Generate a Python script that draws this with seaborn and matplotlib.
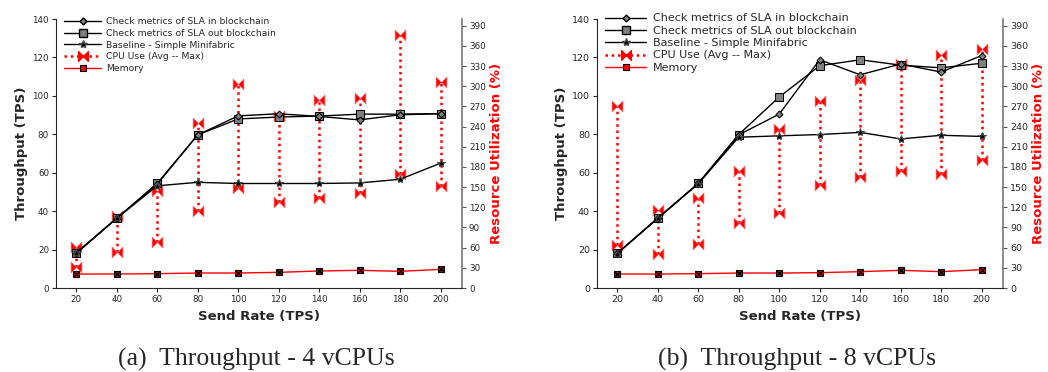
import numpy as np
import pandas as pd
import matplotlib
matplotlib.use('Agg')
import matplotlib.pyplot as plt
from matplotlib.lines import Line2D
from matplotlib.path import Path
import seaborn as sns

# send rate (x)
rate = [20, 40, 60, 80, 100, 120, 140, 160, 180, 200]

# 4 vCPUs
in_4 = [18.1, 36.3, 54.0, 79.7, 89.6, 90.7, 89.3, 87.5, 90.2, 90.7]
out_4 = [18.0, 36.3, 54.5, 79.7, 88.0, 89.0, 89.5, 90.5, 90.5, 90.8]
base_4 = [18.4, 36.3, 53.2, 55.0, 54.4, 54.4, 54.4, 54.7, 56.6, 65.0]
cpu_avg_4 = [31, 53, 69, 114, 149, 128, 134, 142, 169, 152]
cpu_max_4 = [61, 107, 145, 246, 304, 256, 279, 283, 377, 307]
mem_4 = [20.8, 20.8, 21.3, 22.3, 22.3, 23.3, 25.3, 26.3, 24.8, 27.7]

# 8 vCPUs
in_8 = [18.0, 36.3, 54.4, 79.7, 90.5, 118.8, 111.0, 116.6, 112.4, 121.0]
out_8 = [18.0, 36.3, 54.4, 79.9, 99.4, 115.7, 118.8, 116.0, 114.6, 117.0]
base_8 = [17.9, 36.3, 54.2, 78.5, 79.2, 79.9, 81.0, 77.6, 79.5, 78.9]
cpu_avg_8 = [64, 50, 65, 96, 111, 153, 165, 174, 170, 191]
cpu_max_8 = [270, 116, 134, 174, 236, 278, 309, 333, 347, 355]
mem_8 = [20.8, 20.8, 21.3, 22.3, 22.3, 22.8, 24.3, 26.3, 24.3, 27.3]

labels = ['Check metrics of SLA in blockchain', 'Check metrics of SLA out blockchain',
          'Baseline - Simple Minifabric', 'CPU Use (Avg -- Max)', 'Memory']
captions = ['(a)  Throughput - 4 vCPUs', '(b)  Throughput - 8 vCPUs']

sns.set_style('ticks')
plt.rcParams['font.family'] = ['DejaVu Sans']

# bowtie marker for cpu
bowtie = Path([(-1, -1), (-1, 1), (0, 0), (-1, -1), (1, 1), (1, -1), (0, 0), (1, 1)],
              [Path.MOVETO, Path.LINETO, Path.LINETO, Path.CLOSEPOLY,
               Path.MOVETO, Path.LINETO, Path.LINETO, Path.CLOSEPOLY])

fig = plt.figure(figsize=(10.48, 3.72), dpi=100)
positions = [[0.0534, 0.2258, 0.3874, 0.723], [0.5696, 0.2258, 0.3874, 0.723]]
sets = [(in_4, out_4, base_4, cpu_avg_4, cpu_max_4, mem_4),
        (in_8, out_8, base_8, cpu_avg_8, cpu_max_8, mem_8)]
# small per-panel differences in text size (the two panels were scaled differently)
tick_fs = [6.3, 6.8]
leg_fs = [6.7, 8.0]
leg_sp = [0.28, 0.21]
leg_hl = [4.0, 3.7]
leg_tp = [0.54, 0.63]
leg_y = [1.006, 1.021]

for i, (pos, data, cap) in enumerate(zip(positions, sets, captions)):
    s_in, s_out, s_base, c_avg, c_max, mem = data
    ax = fig.add_axes(pos)
    ax2 = ax.twinx()
    df = pd.DataFrame({'rate': rate, 'in': s_in, 'out': s_out, 'base': s_base})

    sns.lineplot(data=df, x='rate', y='in', ax=ax, color='black', lw=1, marker='D',
                 markersize=3.5, markerfacecolor='gray', markeredgecolor='black', zorder=5)
    sns.lineplot(data=df, x='rate', y='out', ax=ax, color='black', lw=1, marker='s',
                 markersize=5.5, markerfacecolor='gray', markeredgecolor='black', zorder=4)
    sns.lineplot(data=df, x='rate', y='base', ax=ax, color='black', lw=1, marker='*',
                 markersize=6, markerfacecolor='black', markeredgecolor='#444444', zorder=6)

    # cpu ranges on right axis
    ax2.vlines(rate, c_avg, c_max, colors='red', linestyles=(0, (1, 1.5)), lw=1.8, zorder=3)
    sns.scatterplot(x=rate + rate, y=c_avg + c_max, ax=ax2, marker=bowtie, s=60,
                    color='red', edgecolor='#ff6666', linewidth=0.5, zorder=4)
    # memory
    sns.lineplot(x=rate, y=mem, ax=ax2, color='red', lw=1, marker='s', markersize=5,
                 markerfacecolor='red', markeredgecolor='black', markeredgewidth=0.8,
                 zorder=5)
    sns.scatterplot(x=rate, y=mem, ax=ax2, marker='x', s=14, color='black',
                    linewidth=1.0, zorder=6)

    ax.set_xlim(10, 210.5)
    ax.set_ylim(0, 140)
    ax.set_xticks(rate)
    ax.set_yticks(np.arange(0, 141, 20))
    ax2.set_ylim(0, 400)
    ax2.set_yticks(np.arange(0, 391, 30))
    ax.set_xlabel('Send Rate (TPS)', fontsize=9.5, fontweight='bold', labelpad=4)
    ax.set_ylabel('Throughput (TPS)', fontsize=9.5, fontweight='bold', labelpad=3)
    ax2.set_ylabel('Resource Utilization (%)', fontsize=9.5, fontweight='bold',
                   color='red', labelpad=3)
    ax.tick_params(labelsize=tick_fs[i], length=3, width=0.8, pad=2)
    ax2.tick_params(labelsize=tick_fs[i], length=3, width=0.8, pad=2, color='#555555')
    for a in (ax, ax2):
        a.spines['top'].set_visible(False)
    ax.spines['right'].set_visible(False)
    ax2.spines['left'].set_visible(False)
    ax2.spines['bottom'].set_visible(False)
    ax2.spines['right'].set_color('#777777')
    ax2.spines['right'].set_linewidth(1.2)
    ax2.set_zorder(ax.zorder - 1)
    ax.patch.set_visible(False)

    handles = [
        Line2D([], [], color='black', lw=1, marker='D', markersize=3.5,
               markerfacecolor='gray', markeredgecolor='black'),
        Line2D([], [], color='black', lw=1, marker='s', markersize=5.5,
               markerfacecolor='gray', markeredgecolor='black'),
        Line2D([], [], color='black', lw=1, marker='*', markersize=6,
               markerfacecolor='black', markeredgecolor='#444444'),
        Line2D([], [], color='red', lw=1.8, ls=(0, (1, 1.5)), marker=bowtie,
               markersize=7, markerfacecolor='red', markeredgecolor='red'),
        Line2D([], [], color='red', lw=1, marker='s', markersize=5,
               markerfacecolor='red', markeredgecolor='black', markeredgewidth=0.8),
    ]
    ax.legend(handles, labels, loc='upper left', bbox_to_anchor=(0.02, leg_y[i]),
              frameon=False, fontsize=leg_fs[i], handlelength=leg_hl[i],
              handletextpad=leg_tp[i], labelspacing=leg_sp[i],
              borderaxespad=0, borderpad=0)

    cx = pos[0] + pos[2] / 2 - 0.003
    fig.text(cx, 0.016, cap, ha='center', va='baseline', fontsize=18.5,
             family='Liberation Serif')

fig.savefig('out.png', dpi=100)
